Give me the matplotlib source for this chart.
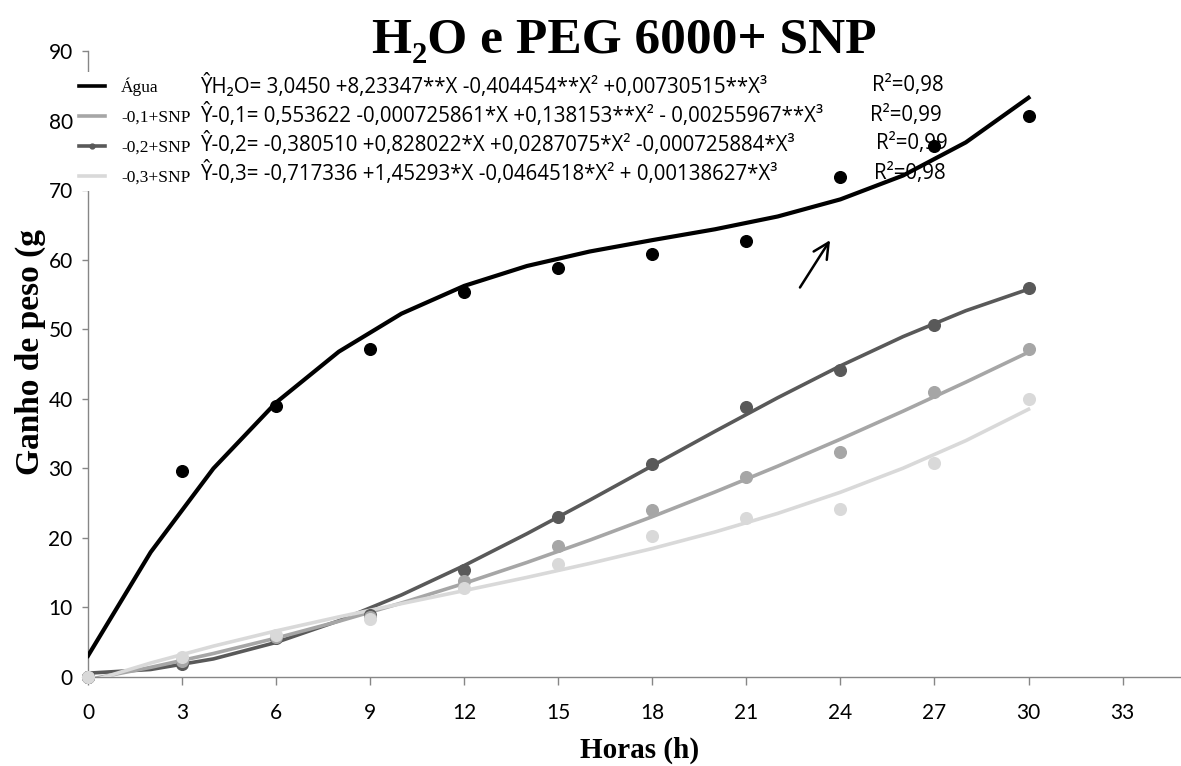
import matplotlib
matplotlib.use("Agg")
import matplotlib.pyplot as plt
from matplotlib.lines import Line2D

# ---------------- data ----------------
hours = [0, 3, 6, 9, 12, 15, 18, 21, 24, 27, 30]
agua = [0.0, 29.6, 39.0, 47.1, 55.3, 58.8, 60.8, 62.7, 71.9, 76.3, 80.6]
snp_01 = [0.0, 2.3, 5.8, 8.6, 13.8, 18.9, 24.0, 28.8, 32.3, 41.0, 47.1]
snp_02 = [0.0, 1.9, 5.6, 8.9, 15.4, 23.0, 30.6, 38.8, 44.1, 50.6, 55.9]
snp_03 = [0.0, 2.9, 6.0, 8.3, 12.8, 16.3, 20.3, 22.9, 24.1, 30.7, 40.0]

# trend lines (values read at even hours)
fit_hours = [0, 2, 4, 6, 8, 10, 12, 14, 16, 18, 20, 22, 24, 26, 28, 30]
fit_agua = [3.05, 17.95, 29.98, 39.46, 46.77, 52.24, 56.23, 59.09, 61.17, 62.81,
            64.37, 66.21, 68.67, 72.10, 76.86, 83.28]
fit_01 = [-0.38, 1.39, 3.38, 5.59, 8.01, 10.64, 13.46, 16.47, 19.67, 23.05,
          26.60, 30.31, 34.19, 38.22, 42.39, 46.70]
fit_02 = [0.55, 1.08, 2.60, 4.97, 8.08, 11.80, 16.02, 20.60, 25.42, 30.37,
          35.32, 40.15, 44.73, 48.94, 52.66, 55.76]
fit_03 = [-0.72, 2.01, 4.44, 6.63, 8.64, 10.55, 12.42, 14.32, 16.32, 18.47,
          20.85, 23.52, 26.56, 30.02, 33.98, 38.49]

legend_labels = ["Água", "-0,1+SNP", "-0,2+SNP", "-0,3+SNP"]
equations = [
    "ŶH₂O= 3,0450 +8,23347**X -0,404454**X² +0,00730515**X³",
    "Ŷ-0,1= 0,553622 -0,000725861*X +0,138153**X² - 0,00255967**X³",
    "Ŷ-0,2= -0,380510 +0,828022*X +0,0287075*X² -0,000725884*X³",
    "Ŷ-0,3= -0,717336 +1,45293*X -0,0464518*X² + 0,00138627*X³",
]
r2_labels = ["R²=0,98", "R²=0,99", "R²=0,99", "R²=0,98"]
x_ticks = [0, 3, 6, 9, 12, 15, 18, 21, 24, 27, 30, 33]
y_ticks = [0, 10, 20, 30, 40, 50, 60, 70, 80, 90]

# ---------------- style ----------------
W, H = 1181, 766
C_AGUA = "#000000"
C_01 = "#a6a6a6"
C_02 = "#595959"
C_03 = "#d9d9d9"
SPINE = "#868686"
SANS = ["Lato", "DejaVu Sans"]
EQ_FONT = ["Open Sans", "DejaVu Sans"]
SERIF = ["Liberation Serif", "DejaVu Serif"]

fig = plt.figure(figsize=(W / 100, H / 100), dpi=100)
fig.patch.set_facecolor("white")

left_px, right_px, top_px, bottom_px = 88, 1181, 51, 677
ax = fig.add_axes([left_px / W, 1 - bottom_px / H,
                   (right_px - left_px) / W, (bottom_px - top_px) / H])

# trend lines
ax.plot(fit_hours, fit_agua, color=C_AGUA, lw=3.0, zorder=3)
ax.plot(fit_hours, fit_02, color=C_02, lw=2.6, zorder=3)
ax.plot(fit_hours, fit_01, color=C_01, lw=2.6, zorder=3)
ax.plot(fit_hours, fit_03, color=C_03, lw=2.6, zorder=3)

# observed points
ms = 8.4
ax.plot(hours, agua, "o", color=C_AGUA, ms=ms, zorder=4, clip_on=False)
ax.plot(hours, snp_02, "o", color=C_02, ms=ms, zorder=4, clip_on=False)
ax.plot(hours, snp_01, "o", color=C_01, ms=ms, zorder=4, clip_on=False)
ax.plot(hours, snp_03, "o", color=C_03, ms=ms, zorder=4, clip_on=False)

ax.set_xlim(0, (right_px - left_px) / 31.35)
ax.set_ylim(0, 90)
ax.set_xticks(x_ticks)
ax.set_yticks(y_ticks)
for sp in ["top", "right"]:
    ax.spines[sp].set_visible(False)
for sp in ["left", "bottom"]:
    ax.spines[sp].set_color(SPINE)
    ax.spines[sp].set_linewidth(1.0)
ax.tick_params(axis="x", direction="out", length=6, width=1, color=SPINE, pad=13)
ax.tick_params(axis="y", direction="out", length=4, width=1, color=SPINE, pad=7)
for lab in ax.get_xticklabels() + ax.get_yticklabels():
    lab.set_family(SANS)
    lab.set_fontsize(15)
    lab.set_color("#000000")

# arrow
ax.annotate("", xy=(23.67, 62.8), xytext=(22.71, 56.0),
            arrowprops=dict(arrowstyle="->", lw=1.8, color="black",
                            mutation_scale=28, shrinkA=0, shrinkB=0))

# axis labels
fig.text(640 / W, 1 - 750 / H, "Horas (h)", ha="center", va="center",
         family=SERIF, fontweight="bold", fontsize=21)
fig.text(30 / W, 1 - 352 / H, "Ganho de peso (g", ha="center", va="center",
         rotation=90, family=SERIF, fontweight="bold", fontsize=24)

# title
fig.text(624 / W, 1 - 41 / H, "H₂O e PEG 6000+ SNP", ha="center", va="center",
         family=SERIF, fontweight="bold", fontsize=37)

# legend
handles = [
    Line2D([], [], color=C_AGUA, lw=2.6),
    Line2D([], [], color=C_01, lw=2.6),
    Line2D([], [], color=C_02, lw=2.6, marker="o", ms=3.5),
    Line2D([], [], color=C_03, lw=2.6),
]
leg = fig.legend(handles, legend_labels, loc="upper left",
                 bbox_to_anchor=(74 / W, 1 - 72 / H),
                 frameon=True, facecolor="white", edgecolor="none", framealpha=1,
                 prop={"family": SERIF, "size": 12.5},
                 handlelength=1.5, handletextpad=0.9, labelspacing=0.8,
                 borderpad=0.3, borderaxespad=0)

# equations and R2
eq_y = [86, 115, 144, 173]
r2_x = [872, 870, 876, 874]
for txt, r2, yy, rx in zip(equations, r2_labels, eq_y, r2_x):
    fig.text(200 / W, 1 - yy / H, txt, ha="left", va="center",
             family=EQ_FONT, fontsize=14.8, zorder=6)
    fig.text(rx / W, 1 - yy / H, r2, ha="left", va="center",
             family=EQ_FONT, fontsize=14.8, zorder=6)

fig.savefig("out.png", dpi=100, facecolor="white")
